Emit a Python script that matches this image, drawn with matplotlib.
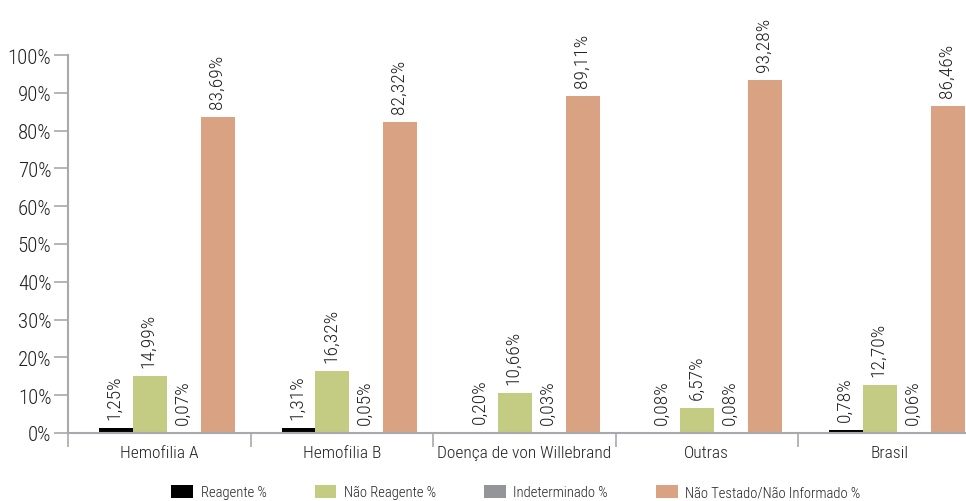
import matplotlib
matplotlib.use("Agg")
import matplotlib.pyplot as plt
from matplotlib.patches import Patch
import numpy as np

categories = ["Hemofilia A", "Hemofilia B", "Doença de von Willebrand", "Outras", "Brasil"]
series_names = ["Reagente %", "Não Reagente %", "Indeterminado %", "Não Testado/Não Informado %"]
reagente = [1.25, 1.31, 0.20, 0.08, 0.78]
nao_reagente = [14.99, 16.32, 10.66, 6.57, 12.70]
indeterminado = [0.07, 0.05, 0.03, 0.08, 0.06]
nao_testado = [83.69, 82.32, 89.11, 93.28, 86.46]
value_labels = [
    ["1,25%", "1,31%", "0,20%", "0,08%", "0,78%"],
    ["14,99%", "16,32%", "10,66%", "6,57%", "12,70%"],
    ["0,07%", "0,05%", "0,03%", "0,08%", "0,06%"],
    ["83,69%", "82,32%", "89,11%", "93,28%", "86,46%"],
]
yticks = [0, 10, 20, 30, 40, 50, 60, 70, 80, 90, 100]
ytick_labels = ["0%", "10%", "20%", "30%", "40%", "50%", "60%", "70%", "80%", "90%", "100%"]

colors = ["#000000", "#c4cb83", "#939598", "#d8a283"]
series = [reagente, nao_reagente, indeterminado, nao_testado]

plt.rcParams['font.family'] = ['Roboto Condensed', 'DejaVu Sans']
plt.rcParams['font.weight'] = 'light'
text_color = "#231f20"
axis_color = "#a7a9ac"

W, H = 966, 502
fig = plt.figure(figsize=(W / 100, H / 100), dpi=100)
left_px, right_px, top_px, bottom_px = 68, 980.5, 56, 434
ax = fig.add_axes([left_px / W, (H - bottom_px) / H, (right_px - left_px) / W, (bottom_px - top_px) / H])

x = np.arange(len(categories))
bw = 0.186
start = -0.33
for j, (vals, col) in enumerate(zip(series, colors)):
    pos = x + start + bw * (j + 0.5)
    bars = ax.bar(pos, vals, width=bw, color=col, edgecolor='none', zorder=2)
    for b, lab in zip(bars, value_labels[j]):
        ax.annotate(lab, (b.get_x() + b.get_width() / 2, b.get_height()),
                    xytext=(-1, 6.5), textcoords='offset points', rotation=90,
                    ha='center', va='bottom', fontsize=14, color=text_color)

ax.set_xlim(-0.5, len(categories) - 0.5)
ax.set_ylim(0, 100)
ax.set_yticks(yticks)
ax.set_yticklabels(ytick_labels, fontsize=15, color=text_color)
ax.tick_params(axis='y', length=10, width=1.2, color=axis_color, pad=2)

ax.set_xticks(np.arange(len(categories) + 1) - 0.5)
ax.set_xticklabels([])
ax.tick_params(axis='x', which='major', length=10, width=1.2, color=axis_color)
ax.set_xticks(x, minor=True)
ax.set_xticklabels(categories, minor=True, fontsize=12.5, color=text_color)
ax.tick_params(axis='x', which='minor', length=0, pad=8.5)

for s in ['top', 'right']:
    ax.spines[s].set_visible(False)
for s in ['left', 'bottom']:
    ax.spines[s].set_color(axis_color)
    ax.spines[s].set_linewidth(1.5)

handles = [Patch(facecolor=c, edgecolor='none', label=n) for c, n in zip(colors, series_names)]
fig.legend(handles=handles, loc='center', bbox_to_anchor=(0.534, 0.018), ncol=4,
           frameon=False, fontsize=10.5, handlelength=1.5, handleheight=1.0,
           handletextpad=0.5, columnspacing=3.3, labelcolor=text_color,
           borderpad=0, borderaxespad=0)

fig.savefig("out.png", dpi=100)
